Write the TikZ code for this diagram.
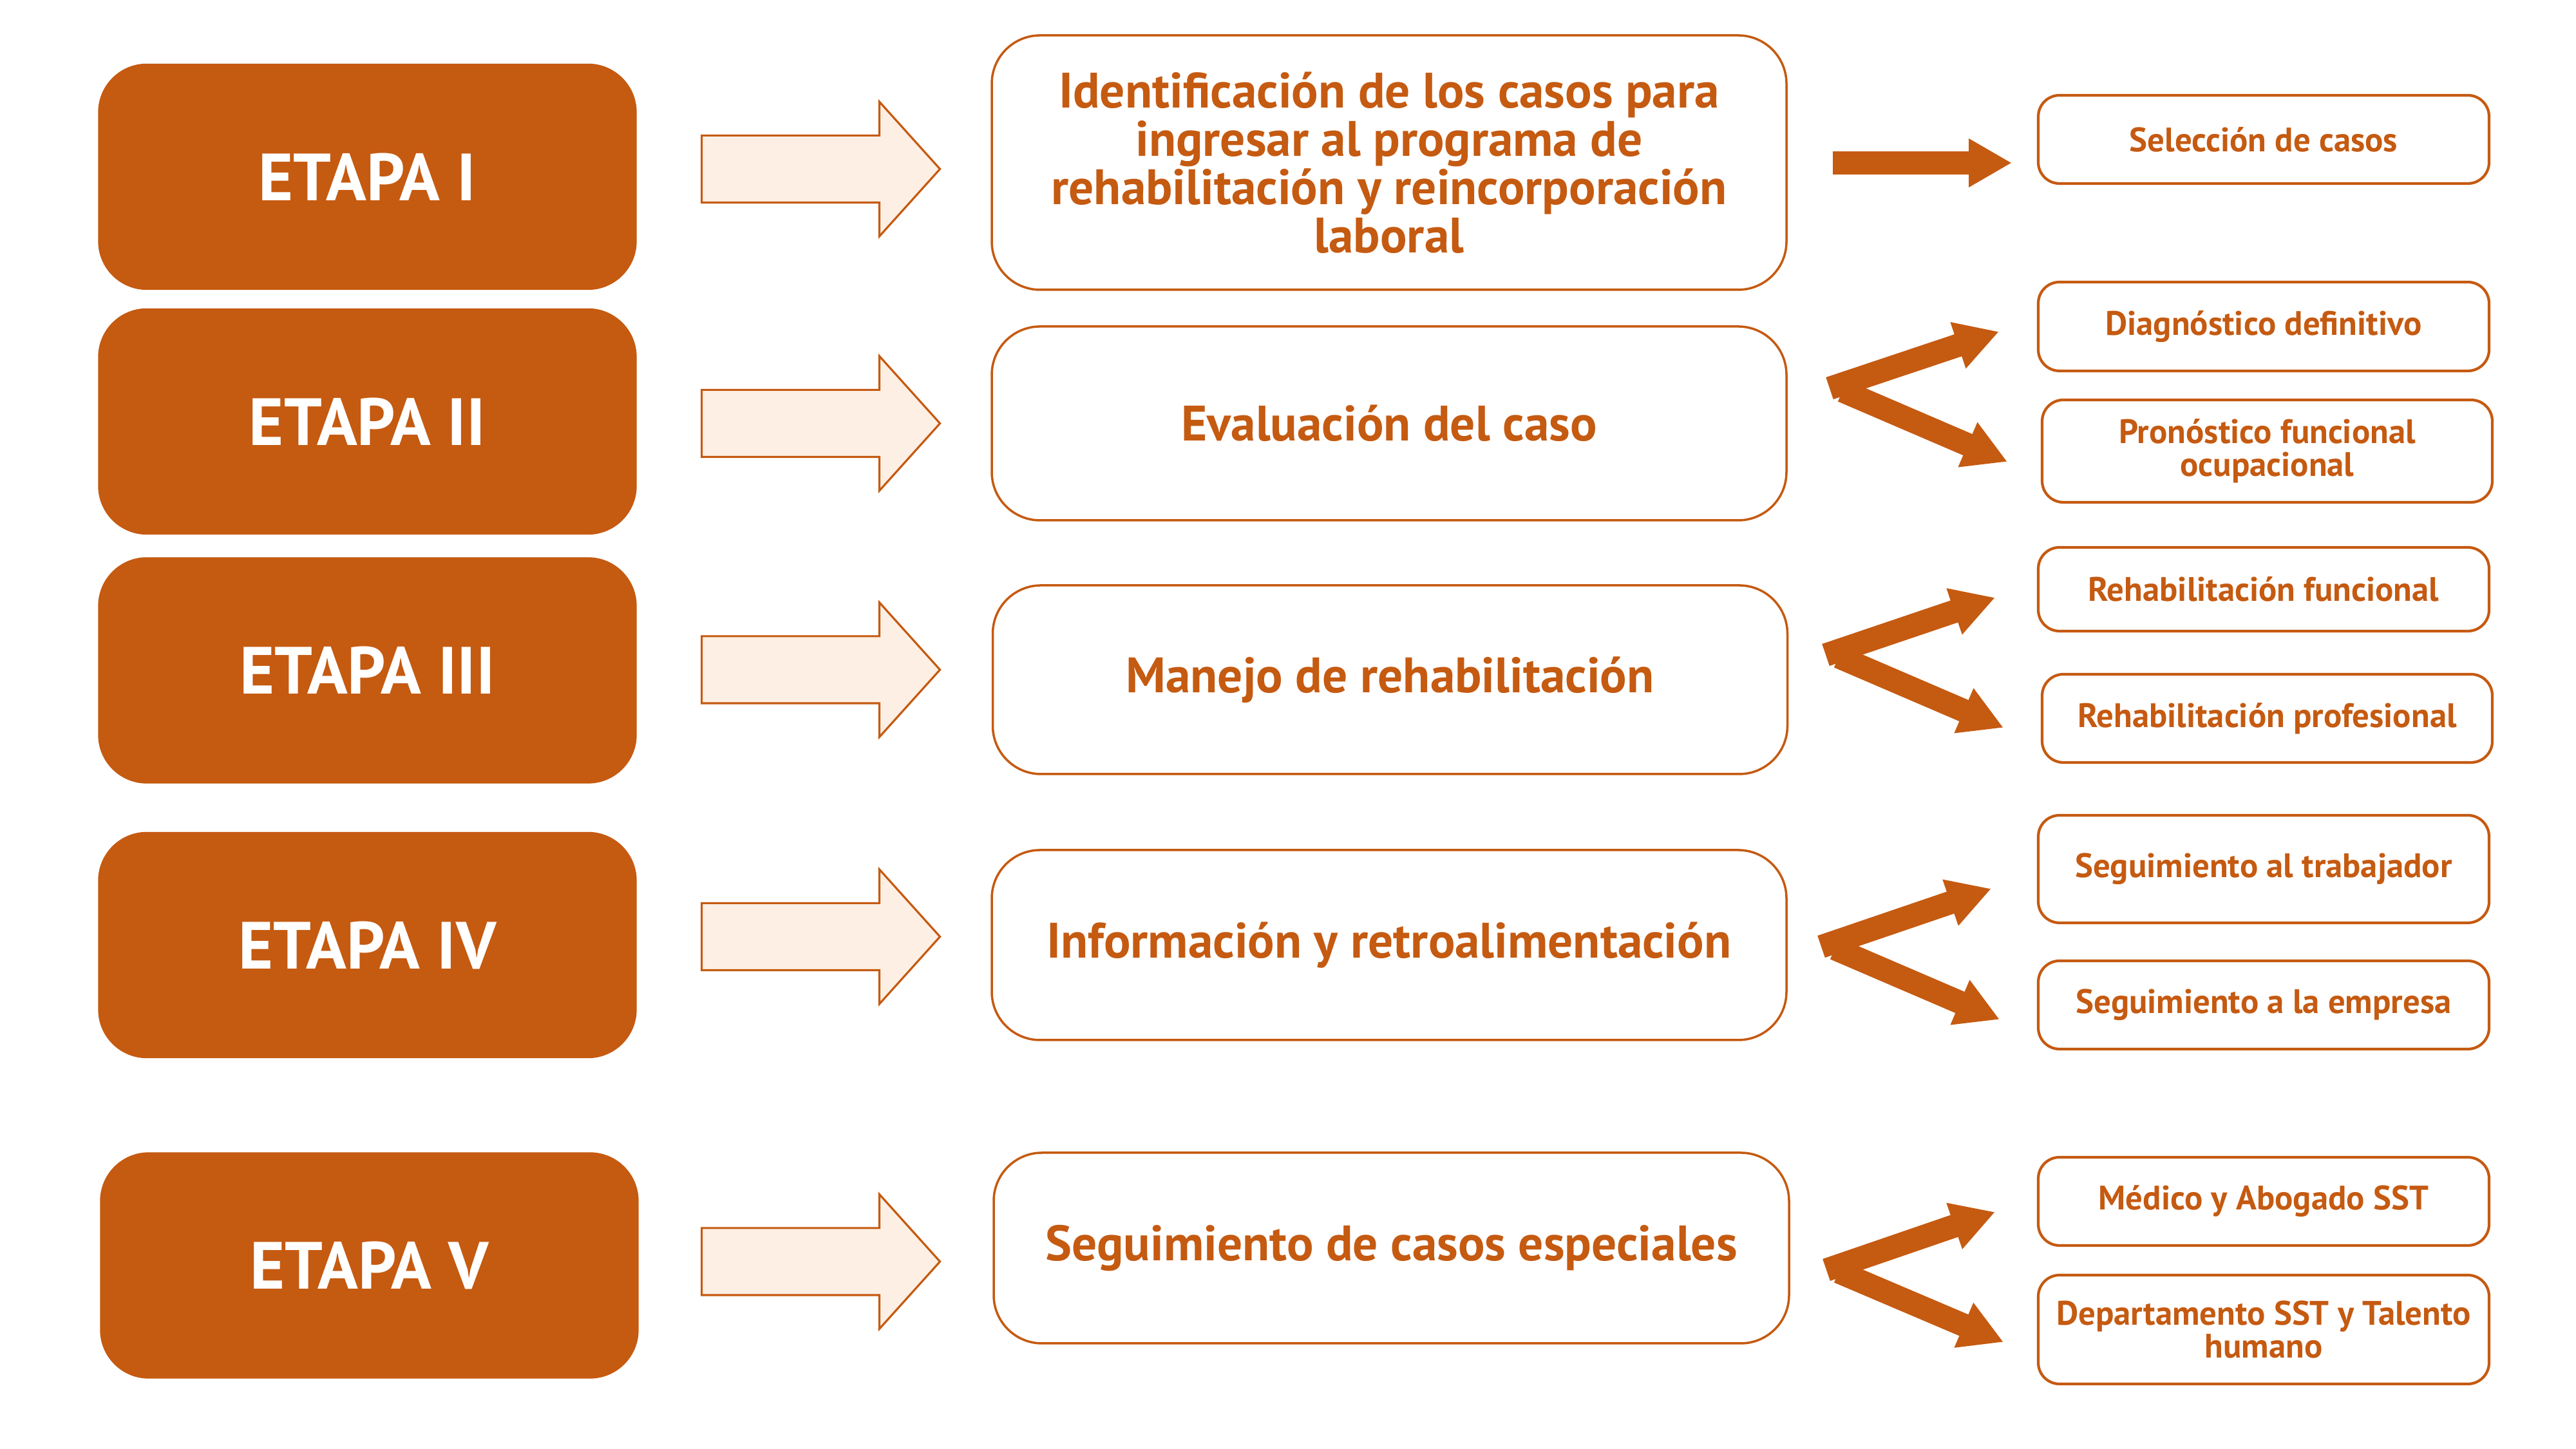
\documentclass[tikz,border=0pt]{standalone}
\usepackage{fontspec}
\setmainfont{PT Sans}
\definecolor{etapaorange}{RGB}{197, 90, 17}
\definecolor{arrowfill}{RGB}{253, 239, 227}
\usepackage{tikz}
\usetikzlibrary{shapes.arrows, arrows.meta, positioning, calc}

\begin{document}
\begin{tikzpicture}[
    etapa/.style={rectangle, rounded corners=0.75cm, fill=etapaorange, draw=etapaorange,
      minimum width=8.35cm, minimum height=3.5cm, text=white,
      font=\bfseries\fontsize{29.5}{32}\selectfont},
    proceso/.style={rectangle, rounded corners=0.75cm, fill=white, draw=etapaorange, line width=1pt,
      minimum width=12.34cm, minimum height=2.95cm, text=etapaorange, align=center,
      font=\bfseries\fontsize{22}{21.3}\selectfont},
    resultado/.style={rectangle, rounded corners=0.33cm, fill=white, draw=etapaorange, line width=1.2pt,
      minimum width=7cm, minimum height=1.37cm, text=etapaorange, align=center,
      font=\bfseries\fontsize{15}{14.5}\selectfont},
    bloque/.style={single arrow, draw=etapaorange, fill=arrowfill, line width=0.9pt,
      minimum height=3.7cm, minimum width=2.06cm, single arrow head extend=0.525cm,
      single arrow tip angle=96, inner xsep=0pt, inner ysep=0.505cm, anchor=tail},
    flechagruesa/.style={draw=etapaorange, line width=0.36cm,
      -{Triangle[length=0.67cm, width=0.71cm]}}
  ]
  \useasboundingbox (0,0) rectangle (40,22.5);

  % etapas
  \node[etapa] (e1) at (5.705, 19.755) {ETAPA I};
  \node[etapa] (e2) at (5.705, 15.955) {ETAPA II};
  \node[etapa] (e3) at (5.705, 12.09) {ETAPA III};
  \node[etapa] (e4) at (5.705, 7.825) {ETAPA IV};
  \node[etapa] (e5) at (5.735, 2.85) {ETAPA V};

  % flechas de bloque
  \node[bloque] (b1) at (10.88, 19.875) {};
  \node[bloque] (b2) at (10.88, 15.925) {};
  \node[bloque] (b3) at (10.88, 12.10) {};
  \node[bloque] (b4) at (10.88, 7.955) {};
  \node[bloque] (b5) at (10.88, 2.91) {};

  % procesos
  \node[proceso, minimum height=3.95cm] (m1) at (21.57, 19.975)
    {Identificación de los casos para\\ingresar al programa de\\rehabilitación y reincorporación\\laboral};
  \node[proceso, minimum height=3.01cm] (m2) at (21.57, 15.925) {Evaluación del caso};
  \node[proceso, minimum height=2.93cm] (m3) at (21.585, 11.945) {Manejo de rehabilitación};
  \node[proceso] (m4) at (21.57, 7.825) {Información y retroalimentación};
  \node[proceso, minimum width=12.35cm, minimum height=2.96cm] (m5) at (21.605, 3.12) {Seguimiento de casos especiales};

  % resultados
  \node[resultado] (r1) at (35.15, 20.335) {Selección de casos};
  \node[resultado, minimum height=1.38cm] (r2a) at (35.15, 17.43) {Diagnóstico definitivo};
  \node[resultado, minimum width=6.99cm, minimum height=1.59cm] (r2b) at (35.205, 15.495) {Pronóstico funcional\\ocupacional};
  \node[resultado, minimum height=1.30cm] (r3a) at (35.15, 13.35) {Rehabilitación funcional};
  \node[resultado, minimum width=6.99cm] (r3b) at (35.205, 11.345) {Rehabilitación profesional};
  \node[resultado, minimum height=1.67cm] (r4a) at (35.15, 9.005) {Seguimiento al trabajador};
  \node[resultado] (r4b) at (35.15, 6.895) {Seguimiento a la empresa};
  \node[resultado] (r5a) at (35.15, 3.845) {Médico y Abogado SST};
  \node[resultado, minimum height=1.69cm] (r5b) at (35.15, 1.855) {Departamento SST y Talento\\humano};

  % puntos de las flechas gruesas
  \coordinate (s1) at (28.46, 19.97);  \coordinate (t1) at (31.24, 19.97);
  \coordinate (s2a) at (28.41, 16.47); \coordinate (t2a) at (31.04, 17.35);
  \coordinate (s2b) at (28.61, 16.43); \coordinate (t2b) at (31.17, 15.33);
  \coordinate (s3a) at (28.35, 12.33); \coordinate (t3a) at (30.98, 13.22);
  \coordinate (s3b) at (28.55, 12.30); \coordinate (t3b) at (31.11, 11.20);
  \coordinate (s4a) at (28.28, 7.80);  \coordinate (t4a) at (30.92, 8.70);
  \coordinate (s4b) at (28.49, 7.77);  \coordinate (t4b) at (31.05, 6.67);
  \coordinate (s5a) at (28.36, 2.78);  \coordinate (t5a) at (30.98, 3.68);
  \coordinate (s5b) at (28.55, 2.75);  \coordinate (t5b) at (31.11, 1.66);

  \draw[flechagruesa] (s1) -- (t1);
  \foreach \k in {2,...,5} {
    \draw[flechagruesa] (s\k a) -- (t\k a);
    \draw[flechagruesa] (s\k b) -- (t\k b);
  }
\end{tikzpicture}
\end{document}
